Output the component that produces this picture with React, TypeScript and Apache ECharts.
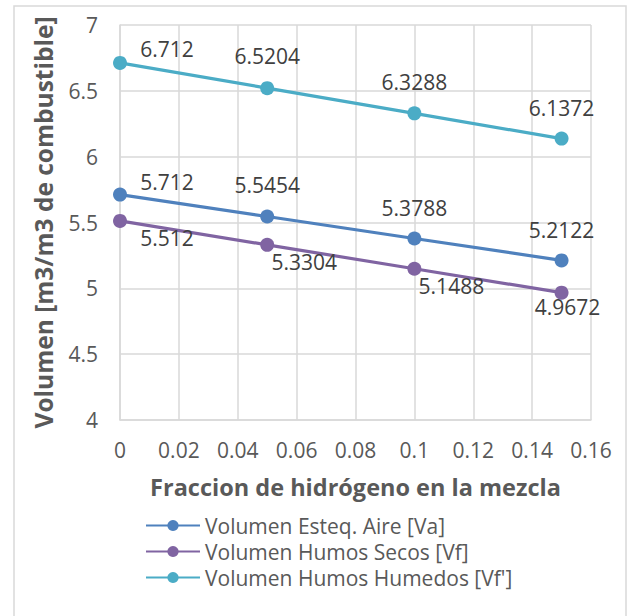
import React, { useEffect, useRef } from "react";
import * as echarts from "echarts";

const fractions = [0, 0.05, 0.1, 0.15];
const vaValues = [5.712, 5.5454, 5.3788, 5.2122];
const vfValues = [5.512, 5.3304, 5.1488, 4.9672];
const vfhValues = [6.712, 6.5204, 6.3288, 6.1372];
const seriesNames = [
  "Volumen Esteq. Aire [Va]",
  "Volumen Humos Secos [Vf]",
  "Volumen Humos Humedos [Vf']",
];
const seriesColors = ["#4F81BD", "#8064A2", "#4BACC6"];

const vaOffsets = [[47, -13], [0, -32], [0, -30], [0, -30]];
const vfOffsets = [[47, 17], [37, 17], [37, 17], [6, 14]];
const vfhOffsets = [[47, -14], [0, -32], [0, -31], [0, -31]];

const FONT = "'Open Sans', 'Noto Sans', sans-serif";

export default function App() {
  const ref = useRef<HTMLDivElement>(null);
  useEffect(() => {
    const chart = echarts.init(ref.current!, null, { renderer: "svg" });
    const mk = (name: string, color: string, vals: number[], offs: number[][]) => ({
      name,
      type: "line",
      data: fractions.map((x, i) => ({
        value: [x, vals[i]],
        label: { offset: offs[i] },
      })),
      symbol: "circle",
      symbolSize: 14,
      lineStyle: { color, width: 3.2 },
      itemStyle: { color },
      label: {
        show: true,
        position: "inside",
        color: "#404040",
        fontFamily: FONT,
        fontSize: 21,
        formatter: (p: any) => String(p.value[1]),
      },
    });
    chart.setOption({
      animation: false,
      textStyle: { fontFamily: FONT },
      graphic: [
        {
          type: "rect",
          shape: { x: 14, y: 6, width: 612, height: 640 },
          style: { fill: "none", stroke: "#d9d9d9", lineWidth: 1.5 },
          silent: true,
        },
      ],
      grid: { left: 120, right: 36, top: 25, bottom: 196, containLabel: false },
      xAxis: {
        type: "value",
        min: 0,
        max: 0.16,
        interval: 0.02,
        name: "Fraccion de hidrógeno en la mezcla",
        nameLocation: "middle",
        nameGap: 55,
        nameTextStyle: { color: "#595959", fontSize: 23.5, fontWeight: "bold", fontFamily: FONT },
        axisLine: { show: true, lineStyle: { color: "#d9d9d9", width: 1.5 } },
        axisTick: { show: false },
        axisLabel: { color: "#595959", fontSize: 21, margin: 19, fontFamily: FONT },
        splitLine: { show: true, lineStyle: { color: "#d9d9d9", width: 1.5 } },
      },
      yAxis: {
        type: "value",
        min: 4,
        max: 7,
        interval: 0.5,
        name: "Volumen [m3/m3 de combustible]",
        nameLocation: "middle",
        nameGap: 64,
        nameTextStyle: { color: "#595959", fontSize: 24.5, fontWeight: "bold", fontFamily: FONT },
        axisLine: { show: true, lineStyle: { color: "#d9d9d9", width: 1.5 } },
        axisTick: { show: false },
        axisLabel: { color: "#595959", fontSize: 21, margin: 22, fontFamily: FONT },
        splitLine: { show: true, lineStyle: { color: "#d9d9d9", width: 1.5 } },
      },
      legend: {
        orient: "vertical",
        left: 140,
        top: 510,
        itemWidth: 54,
        itemHeight: 14,
        itemGap: 5,
        textStyle: { color: "#595959", fontSize: 21, lineHeight: 21, fontFamily: FONT },
        data: seriesNames,
      },
      series: [
        mk(seriesNames[0], seriesColors[0], vaValues, vaOffsets),
        mk(seriesNames[1], seriesColors[1], vfValues, vfOffsets),
        mk(seriesNames[2], seriesColors[2], vfhValues, vfhOffsets),
      ],
    });
    return () => chart.dispose();
  }, []);
  return <div ref={ref} style={{ width: 627, height: 616, position: "absolute", left: 0, top: 0, background: "#fff" }} />;
}
